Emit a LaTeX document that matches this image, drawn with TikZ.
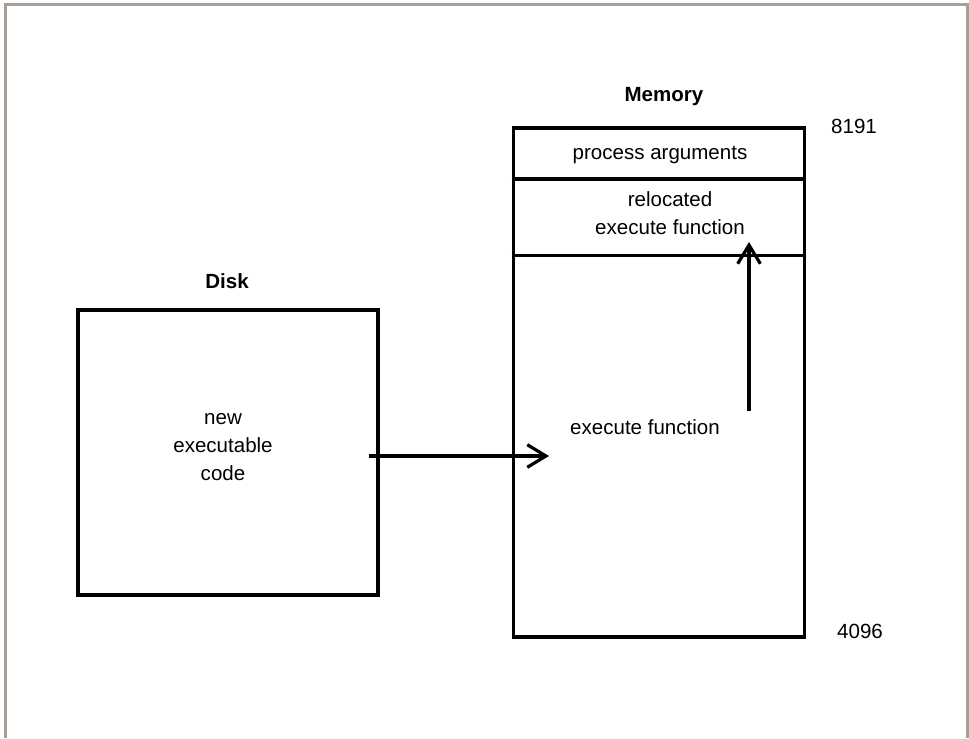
\documentclass[tikz,border=0pt]{standalone}
\usepackage{fontspec}
\setmainfont{Liberation Sans}
\usetikzlibrary{arrows.meta}
\definecolor{framegray}{RGB}{168,158,150}

\begin{document}
\begin{tikzpicture}[x=0.75pt, y=-0.75pt, line width=2.4pt,
  font=\fontsize{15.4}{21}\selectfont,
  box/.style={draw, inner sep=0pt},
  label/.style={inner sep=0pt, align=center},
  move/.style={-{Straight Barb[length=14pt, width=17pt]}}]
\useasboundingbox (0,0) rectangle (969,738);
% 外框
\draw[framegray, line width=2.25pt] (5.5,738) -- (5.5,4.5) -- (967,4.5) -- (967,738);

% Disk
\node[box, minimum width=225pt, minimum height=213.75pt] (disk) at (228,452.5) {};
\node[label, font=\fontsize{15.4}{21}\selectfont\bfseries] (disktitle) at (227,281) {Disk};
\node[label] (newcode) at (223,447) {new\\executable\\code};

% Memory
\node[box, minimum width=218.25pt, minimum height=381.75pt] (mem) at (659,382.5) {};
\node[label, font=\fontsize{15.4}{21}\selectfont\bfseries] (memtitle) at (664,97) {Memory};
\draw (mem.west |- 0,179) -- (mem.east |- 0,179);
\draw (mem.west |- 0,255.5) -- (mem.east |- 0,255.5);
\node[label] (args) at (660,155) {process arguments};
\node[label] (reloc) at (670,213) {relocated\\execute function};
\node[label] (exec) at (645,427) {execute function};
\node[label] (top) at (854,126) {8191};
\node[label] (bottom) at (860,631) {4096};

% 辅助箭头
\coordinate (load) at (369,456);
\coordinate (loadend) at (549,456);
\coordinate (copy) at (749,411);
\coordinate (copyend) at (749,242);
\draw[move] (load) -- (loadend);
\draw[move] (copy) -- (copyend);
\end{tikzpicture}
\end{document}
